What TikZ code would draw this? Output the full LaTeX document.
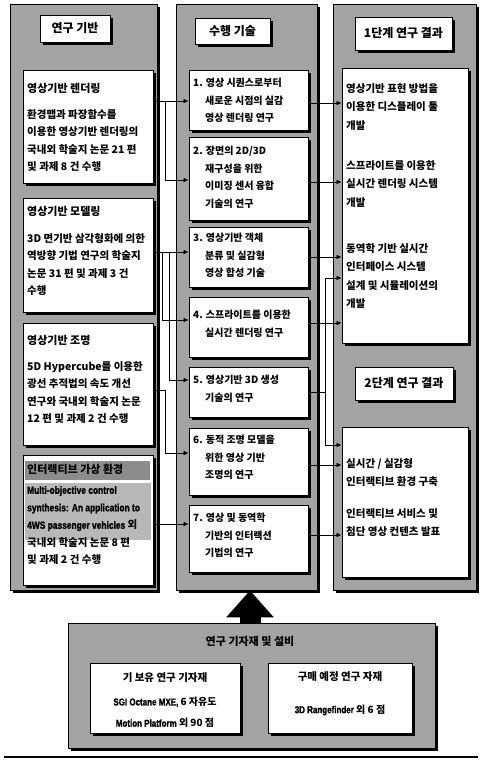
\documentclass[tikz,border=0pt]{standalone}
\usepackage{fontspec}
\setmainfont{Noto Sans CJK KR}
\newfontfamily\narrow{Liberation Sans}[UprightFont={* Bold}, FakeStretch=0.8, FakeBold=1.5]
\usetikzlibrary{shadows,fit,arrows.meta}
\tikzset{
 panel/.style={draw=black, line width=0.8pt, fill=black!36, inner sep=0pt,
   drop shadow={shadow xshift=3pt, shadow yshift=-3pt, fill=black, opacity=1}},
 wbox/.style={draw=black, line width=0.9pt, fill=white, inner sep=0pt,
   drop shadow={shadow xshift=3pt, shadow yshift=-3pt, fill=black, opacity=1}},
 txt/.style={anchor=north west, align=left, inner sep=0pt, font=\fontsize{10.5}{17.5}\selectfont\bfseries},
 mtxt/.style={anchor=north west, align=left, inner sep=0pt, font=\fontsize{10}{17.5}\selectfont\bfseries},
 btl/.style={anchor=north west, inner sep=0pt, font=\fontsize{11}{13}\selectfont\bfseries},
 ttl/.style={anchor=center, inner sep=0pt, font=\fontsize{12}{14}\selectfont\bfseries},
 ctr/.style={anchor=center, inner sep=0pt, font=\fontsize{10}{12}\selectfont\bfseries},
 arr/.style={line width=0.7pt, -{Latex[length=5pt,width=4.5pt]}},
 ln/.style={line width=0.7pt},
 bigarr/.style={line width=21pt, -{Triangle[width=46pt,length=27pt]}},
}
\begin{document}
\begin{tikzpicture}[x=1pt,y=-1pt]
\useasboundingbox (0,0) rectangle (481,762);
\fill[white] (0,0) rectangle (481,762);

% panels
\node[panel, fit={(10,4)(157,590)}] (LP) {};
\node[panel, fit={(176,4)(317,590)}] (MP) {};
\node[panel, fit={(333,4)(476,590)}] (RP) {};

% headers
\node[wbox, fit={(40,15)(110,42)}] (LH) {};
\node[ttl] at (LH.center) {연구 기반};
\node[wbox, fit={(195,18)(270,44)}] (MH) {};
\node[ttl] at (MH.center) {수행 기술};
\node[wbox, fit={(355,17)(452,50)}] (RH1) {};
\node[ttl] at (RH1.center) {1단계 연구 결과};
\node[wbox, fit={(355,367)(453,400)}] (RH2) {};
\node[ttl] at (RH2.center) {2단계 연구 결과};

% left boxes
\node[wbox, fit={(23,70)(153,183)}] (L1) {};
\node[btl] at (27,83) {영상기반 렌더링};
\node[txt] at (27,109) {환경맵과 파장함수를\\이용한 영상기반 렌더링의\\국내외 학술지 논문 21 편\\및 과제 8 건 수행};

\node[wbox, fit={(23,198)(153,312)}] (L2) {};
\node[btl] at (27,206) {영상기반 모델링};
\node[txt] at (27,233) {3D 면기반 삼각형화에 의한\\역방향 기법 연구의 학술지\\논문 31 편 및 과제 3 건\\수행};

\node[wbox, fit={(23,323)(153,445)}] (L3) {};
\node[btl] at (27,335) {영상기반 조명};
\node[txt] at (27,361) {5D Hypercube를 이용한\\광선 추적법의 속도 개선\\연구와 국내외 학술지 논문\\12 편 및 과제 2 건 수행};

\node[wbox, fit={(23,455)(153,585)}] (L4) {};
\fill[black!45] (25,461) rectangle (150,480);
\fill[black!28] (25,483) rectangle (151,540);
\node[btl] at (27,464) {인터랙티브 가상 환경};
\node[txt] at (27,486) {{\narrow Multi-objective control}\\{\narrow synthesis: An application to}\\{\narrow 4WS passenger vehicles} 외\\국내외 학술지 논문 8 편\\및 과제 2 건 수행};

% middle items
\node[wbox, fit={(189,70)(308,130)}] (M1) {};
\node[mtxt] at (193,78) {1. 영상 시퀀스로부터\\\hspace*{12pt}새로운 시점의 실감\\\hspace*{12pt}영상 렌더링 연구};
\node[wbox, fit={(189,137)(308,220)}] (M2) {};
\node[mtxt] at (193,146) {2. 장면의 2D/3D\\\hspace*{12pt}재구성을 위한\\\hspace*{12pt}이미징 센서 융합\\\hspace*{12pt}기술의 연구};
\node[wbox, fit={(189,227)(308,287)}] (M3) {};
\node[mtxt] at (193,233) {3. 영상기반 객체\\\hspace*{12pt}분류 및 실감형\\\hspace*{12pt}영상 합성 기술};
\node[wbox, fit={(189,297)(308,357)}] (M4) {};
\node[mtxt] at (193,310) {4. 스프라이트를 이용한\\\hspace*{12pt}실시간 렌더링 연구};
\node[wbox, fit={(189,367)(308,417)}] (M5) {};
\node[mtxt] at (193,375) {5. 영상기반 3D 생성\\\hspace*{12pt}기술의 연구};
\node[wbox, fit={(189,428)(308,495)}] (M6) {};
\node[mtxt] at (193,435) {6. 동적 조명 모델을\\\hspace*{12pt}위한 영상 기반\\\hspace*{12pt}조명의 연구};
\node[wbox, fit={(189,505)(308,572)}] (M7) {};
\node[mtxt] at (193,513) {7. 영상 및 동역학\\\hspace*{12pt}기반의 인터랙션\\\hspace*{12pt}기법의 연구};

% right boxes
\node[wbox, fit={(342,68)(468,343)}] (R1) {};
\node[txt, font=\fontsize{10.5}{18.5}\selectfont\bfseries] at (346,83) {영상기반 표현 방법을\\이용한 디스플레이 툴\\개발};
\node[txt, font=\fontsize{10.5}{18.5}\selectfont\bfseries] at (346,160) {스프라이트를 이용한\\실시간 렌더링 시스템\\개발};
\node[txt, font=\fontsize{10.5}{18.5}\selectfont\bfseries] at (346,243) {동역학 기반 실시간\\인터페이스 시스템\\설계 및 시뮬레이션의\\개발};
\node[wbox, fit={(342,427)(468,577)}] (R2) {};
\node[txt, font=\fontsize{10.5}{18}\selectfont\bfseries] at (346,458) {실시간 / 실감형\\인터랙티브 환경 구축};
\node[txt, font=\fontsize{10.5}{18}\selectfont\bfseries] at (346,508) {인터랙티브 서비스 및\\첨단 영상 컨텐츠 발표};

% connector anchor points
\coordinate (a1) at (0,101);
\coordinate (a2) at (0,180);
\coordinate (a3) at (0,252);
\coordinate (a4) at (0,320);
\coordinate (a5) at (0,380);
\coordinate (a6) at (0,453);
\coordinate (a7) at (0,524);
\coordinate (l3) at (0,390);
\coordinate (t1) at (165,0);
\coordinate (t2) at (162,0);
\coordinate (t3) at (169,0);

% left -> middle
\draw[arr] (L1.east |- a1) -- (M1.west |- a1);
\draw[ln] (t1 |- a1) -- (t1 |- a2);
\draw[arr] (t1 |- a2) -- (M2.west |- a2);
\draw[arr] (L2.east |- a3) -- (M3.west |- a3);
\draw[ln] (t2 |- a3) -- (t2 |- a4);
\draw[arr] (t2 |- a4) -- (M4.west |- a4);
\draw[ln] (t3 |- a3) -- (t3 |- a5);
\draw[arr] (t3 |- a5) -- (M5.west |- a5);
\draw[ln] (L3.east |- l3) -- (t1 |- l3) -- (t1 |- a6);
\draw[arr] (t1 |- a6) -- (M6.west |- a6);
\draw[arr] (L4.east |- a7) -- (M7.west |- a7);

% middle -> right
\coordinate (b1) at (0,103);
\coordinate (b2) at (0,182);
\coordinate (b3) at (0,257);
\coordinate (b4) at (0,323);
\coordinate (b5u) at (0,278);
\coordinate (b5d) at (0,445);
\coordinate (b6) at (0,465);
\coordinate (b7) at (0,535);
\coordinate (u) at (325,0);
\draw[arr] (M1.east |- b1) -- (R1.west |- b1);
\draw[arr] (M2.east |- b2) -- (R1.west |- b2);
\draw[arr] (M3.east |- b3) -- (R1.west |- b3);
\draw[arr] (M4.east |- b4) -- (R1.west |- b4);
\draw[ln] (M5.east) -- (u |- M5.east);
\draw[ln] (u |- b5u) -- (u |- b5d);
\draw[arr] (u |- b5u) -- (R1.west |- b5u);
\draw[arr] (u |- b5d) -- (R2.west |- b5d);
\draw[arr] (M6.east |- b6) -- (R2.west |- b6);
\draw[arr] (M7.east |- b7) -- (R2.west |- b7);

% bottom section
\node[panel, fit={(68,623)(435,748)}] (B) {};
\node[ttl, font=\fontsize{11}{13}\selectfont\bfseries] at (250,641) {연구 기자재 및 설비};
\node[wbox, fit={(90,663)(240,733)}] (B1) {};
\node[ctr, font=\fontsize{10.5}{12}\selectfont\bfseries] at (165,678) {기 보유 연구 기자재};
\node[ctr] at (165,702) {{\narrow SGI Octane MXE,} 6 자유도};
\node[ctr] at (165,723) {{\narrow Motion Platform} 외 90 점};
\node[wbox, fit={(268,663)(412,733)}] (B2) {};
\node[ctr, font=\fontsize{10.5}{12}\selectfont\bfseries] at (340,677) {구매 예정 연구 자재};
\node[ctr] at (340,710) {{\narrow 3D Rangefinder} 외 6 점};

% big arrow from equipment to techniques
\coordinate (ax) at (250,0);
\draw[bigarr] (ax |- B.north) -- (ax |- MP.south);

% bottom rule
\coordinate (r0) at (4,757);
\coordinate (r1) at (478,757);
\draw[line width=1.6pt] (r0) -- (r1);
\end{tikzpicture}
\end{document}
